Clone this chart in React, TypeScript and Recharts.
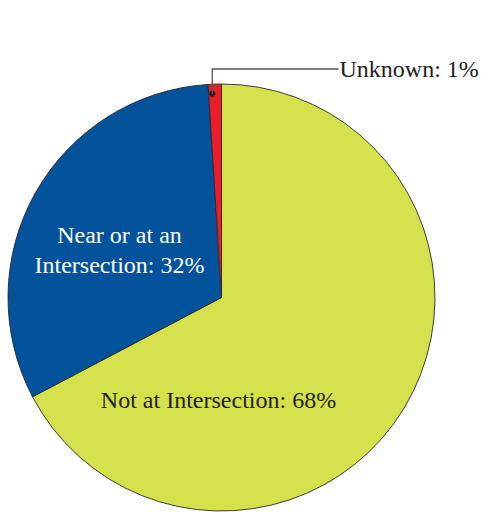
import React from 'react';
import { PieChart, Pie, Cell } from 'recharts';

const categories = ['Not at Intersection', 'Near or at an Intersection', 'Unknown'];
const shares = [67.3, 31.7, 1.0];
const labelTexts = [
  ['Not at Intersection: 68%'],
  ['Near or at an', 'Intersection: 32%'],
  ['Unknown: 1%'],
];
const colors = ['#D4E04C', '#02529C', '#EC1C2D'];

const data = categories.map((name, i) => ({ name, value: shares[i] }));

const FONT = '"Liberation Serif", "Times New Roman", serif';
const RAD = Math.PI / 180;

const renderLabel = (props: any) => {
  const { cx, cy, index, midAngle, outerRadius } = props;
  if (index === 0) {
    return (
      <text x={cx - 3} y={cy + 110.5} textAnchor="middle" fill="#231F20" fontSize={24} fontFamily={FONT}>
        {labelTexts[0][0]}
      </text>
    );
  }
  if (index === 1) {
    return (
      <g>
        {labelTexts[1].map((t, k) => (
          <text key={k} x={cx - 102} y={cy - 55 + k * 30} textAnchor="middle" fill="#FFFFFF" fontSize={24} fontFamily={FONT}>
            {t}
          </text>
        ))}
      </g>
    );
  }
  const ang = midAngle + 0.8;
  const r = outerRadius - 9.5;
  const px = cx + r * Math.cos(-ang * RAD);
  const py = cy + r * Math.sin(-ang * RAD);
  const ly = cy - 228.5;
  const lx = cx + 117;
  return (
    <g>
      <circle cx={px} cy={py} r={3} fill="#231F20" />
      <path d={`M${px},${py} L${px},${ly} L${lx},${ly}`} stroke="#555" strokeWidth={1.3} fill="none" />
      <text x={lx + 1} y={cy - 220.5} textAnchor="start" fill="#231F20" fontSize={24} fontFamily={FONT}>
        {labelTexts[2][0]}
      </text>
    </g>
  );
};

export default function App() {
  return (
    <div style={{ position: 'absolute', left: 0, top: 0, width: 481, height: 512, background: '#fff' }}>
      <PieChart width={481} height={512} margin={{ top: 0, right: 0, bottom: 0, left: 0 }}>
        <Pie
          data={data}
          dataKey="value"
          nameKey="name"
          cx={221.5}
          cy={297.5}
          outerRadius={213.5}
          startAngle={90}
          endAngle={-270}
          stroke="#2b2b2b"
          strokeWidth={0.9}
          label={renderLabel}
          labelLine={false}
          isAnimationActive={false}
        >
          {data.map((d, i) => (
            <Cell key={d.name} fill={colors[i]} />
          ))}
        </Pie>
      </PieChart>
    </div>
  );
}
